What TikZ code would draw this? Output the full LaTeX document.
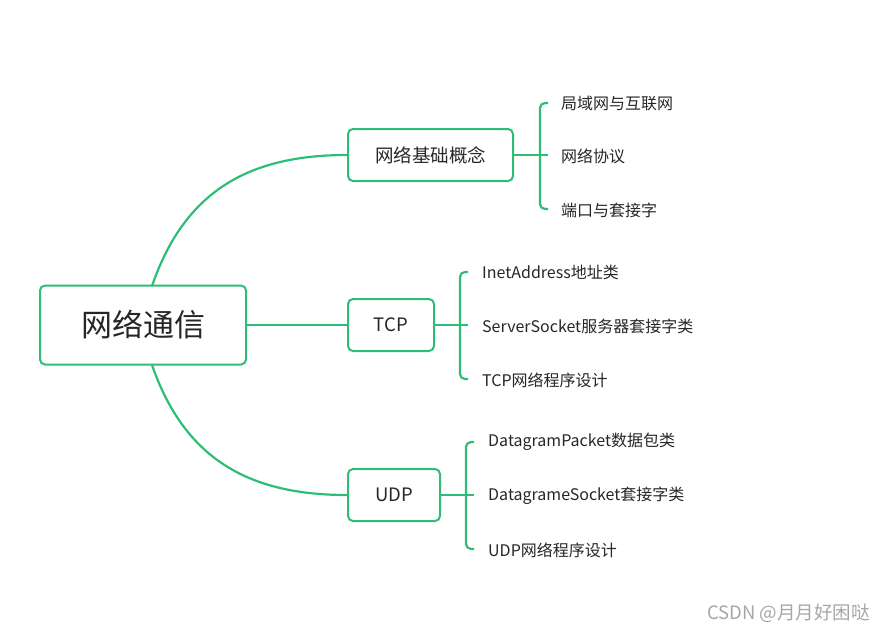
\documentclass[tikz,border=0pt]{standalone}
\usepackage{fontspec}
\setmainfont{Noto Sans CJK SC}
\begin{document}
\begin{tikzpicture}[x=1pt,y=-1pt,
  gline/.style={draw=mmgreen,line width=2.2pt},
  rootbox/.style={draw=mmgreen,line width=2pt,rounded corners=5pt,minimum width=206pt,minimum height=79pt,font=\fontsize{31}{34}\selectfont,text=black!85,inner sep=0pt},
  subbox/.style={draw=mmgreen,line width=2pt,rounded corners=5pt,minimum height=52pt,font=\fontsize{18.5}{21}\selectfont,text=black!85,inner sep=0pt},
  leaf/.style={anchor=west,font=\fontsize{16}{19}\selectfont,text=black!85,inner sep=0pt}
]
\definecolor{mmgreen}{RGB}{46,189,118}
\useasboundingbox (0,0) rectangle (885,632);
\node[rootbox] (root) at (143,325) {网络通信};
\node[subbox,minimum width=165pt] (b1) at (430.5,155) {网络基础概念};
\node[subbox,minimum width=86pt] (b2) at (391,325) {TCP};
\node[subbox,minimum width=92pt] (b3) at (394,495) {UDP};
% curves
\coordinate (rt) at (152,286);
\coordinate (rb) at (152,365);
\draw[gline] (rt) .. controls (185,190) and (250,155) .. (b1.west);
\draw[gline] (root.east) -- (b2.west);
\draw[gline] (rb) .. controls (185,460) and (250,495) .. (b3.west);
% leaves group 1
\node[leaf] (l11) at (561,103) {局域网与互联网};
\node[leaf] (l12) at (561,156) {网络协议};
\node[leaf] (l13) at (561,210) {端口与套接字};
\draw[gline] (b1.east) -- (548,155);
\draw[gline,rounded corners=5pt] (548,103) -- (540,103) -- (540,209) -- (548,209);
% leaves group 2
\node[leaf] (l21) at (482,272) {InetAddress地址类};
\node[leaf] (l22) at (482,326) {ServerSocket服务器套接字类};
\node[leaf] (l23) at (482,380) {TCP网络程序设计};
\draw[gline] (b2.east) -- (468,325);
\draw[gline,rounded corners=5pt] (468,272) -- (460,272) -- (460,379) -- (468,379);
% leaves group 3
\node[leaf] (l31) at (488,442) {DatagramPacket数据包类};
\node[leaf] (l32) at (488,496) {DatagrameSocket套接字类};
\node[leaf] (l33) at (488,550) {UDP网络程序设计};
\draw[gline] (b3.east) -- (474,495);
\draw[gline,rounded corners=5pt] (474,442) -- (466,442) -- (466,549) -- (474,549);
% watermark
\node[anchor=east,font=\fontsize{18.5}{21}\selectfont,text=black!35,inner sep=0pt] (wm) at (870,613) {CSDN @月月好困哒};
\end{tikzpicture}
\end{document}
